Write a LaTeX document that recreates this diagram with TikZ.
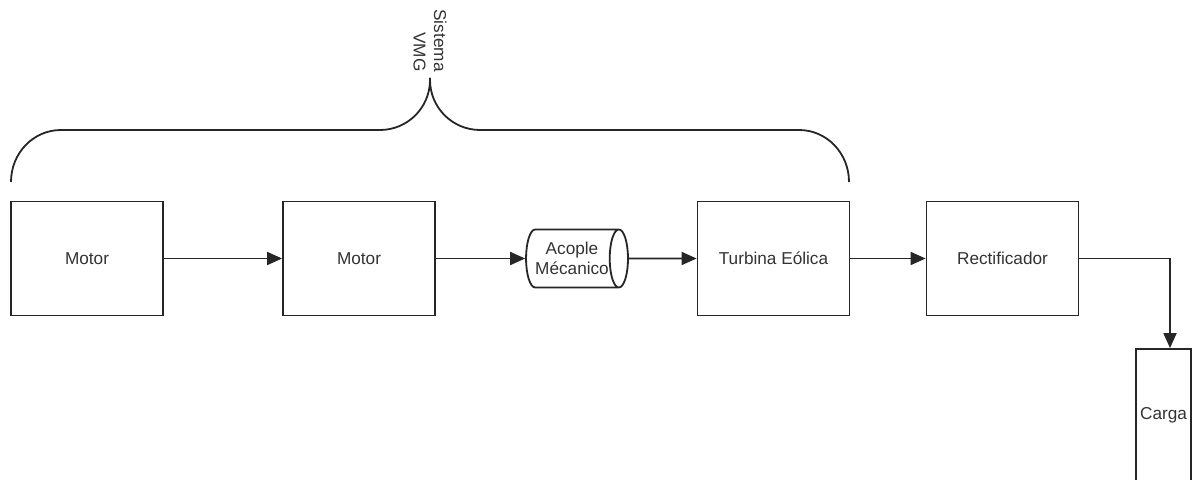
\documentclass[tikz,border=0pt]{standalone}
\usepackage{fontspec}
\setmainfont{Liberation Sans}
\usetikzlibrary{arrows.meta,shapes.geometric}

\begin{document}
\begin{tikzpicture}[x=0.5pt,y=-0.5pt,font=\fontsize{8.6}{10.3}\selectfont,
  block/.style={draw=black!85,line width=0.9pt,minimum width=76pt,minimum height=57pt,inner sep=0pt,text=black!80},
  flow/.style={draw=black!85,line width=0.9pt,-{Triangle[length=7.5pt,width=6.5pt]}}]
\useasboundingbox (0,0) rectangle (1192,480);
\node[block] (motorA) at (87,258.5) {Motor};
\node[block] (motorB) at (359,258.5) {Motor};
\node[draw=black!85,line width=0.9pt,cylinder,aspect=0.55,minimum width=29pt,minimum height=47.5pt,
  inner sep=0pt,align=center,text=black!80] (acople) at (572,258.5) {Acople\\Mécanico};
\node[block] (turbina) at (773.5,258.5) {Turbina Eólica};
\node[block] (rect) at (1002.5,258.5) {Rectificador};
\node[block,minimum width=27.5pt,minimum height=66pt] (carga) at (1163.5,415) {Carga};
% brace over the VMG part
\coordinate (tip) at (430,78);
\draw[black!85,line width=0.9pt] (11,182) .. controls (11,153) and (33.4,130) .. (61,130)
  -- (380,130) .. controls (407.6,130) and (430,107.6) .. (430,80) -- (tip);
\draw[black!85,line width=0.9pt] (tip) -- (430,80) .. controls (430,107.6) and (452.4,130) .. (480,130)
  -- (799,130) .. controls (826.6,130) and (849,153) .. (849,182);
\node[rotate=-90,anchor=east,align=right,inner sep=3pt,text=black!80] (vmg) at (tip) {Sistema\\VMG};
\draw[flow] (motorA) -- (motorB);
\draw[flow] (motorB) -- (acople);
\draw[flow] (acople) -- (turbina);
\draw[flow] (turbina) -- (rect);
\draw[flow] (rect.east) -| ([xshift=3.25pt]carga.north);
\end{tikzpicture}
\end{document}
